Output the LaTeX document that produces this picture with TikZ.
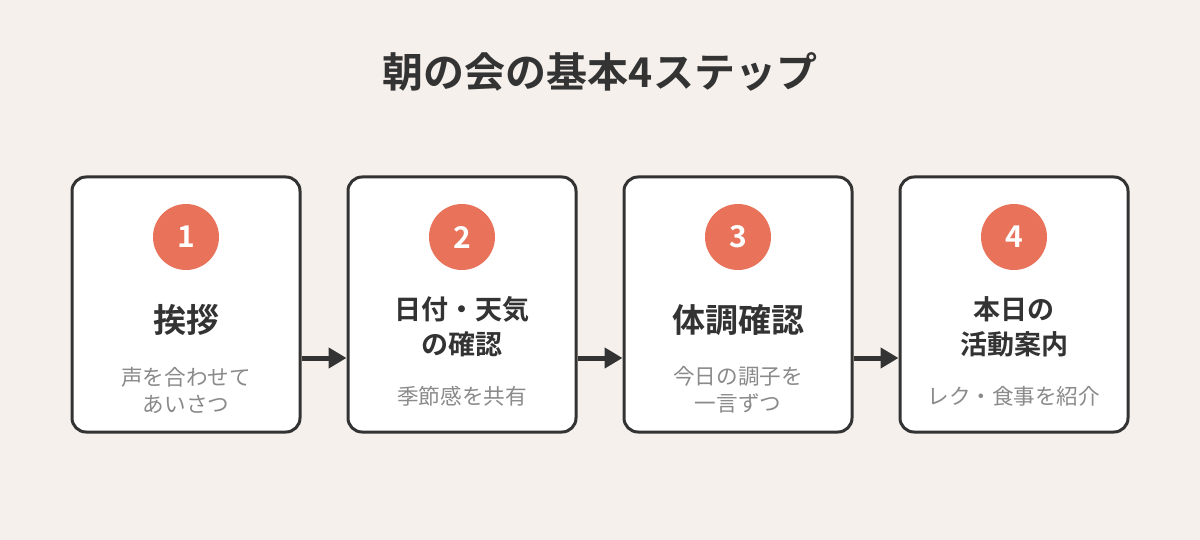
\documentclass[tikz,border=0pt]{standalone}
\usepackage{fontspec}
\setmainfont{Noto Sans CJK JP}
\newfontfamily\jpb{Noto Sans CJK JP Bold}
\usetikzlibrary{arrows.meta}
\definecolor{bg}{HTML}{F5F0EB}
\definecolor{ink}{HTML}{333333}
\definecolor{acc}{HTML}{E8735A}
\definecolor{sub}{HTML}{8A8A8A}
\tikzset{
  card/.style={draw=ink,line width=1.5pt,fill=white,rounded corners=7pt,minimum width=114pt,minimum height=127.5pt},
  num/.style={circle,fill=acc,minimum size=33pt,inner sep=0pt,text=white,font=\jpb\fontsize{15}{15}\selectfont},
  head/.style={text=ink,font=\jpb\fontsize{13.5}{17.5}\selectfont,align=center},
  bighead/.style={text=ink,font=\jpb\fontsize{16.5}{20}\selectfont,align=center},
  desc/.style={text=sub,font=\fontsize{10.8}{13.5}\selectfont,align=center},
  flow/.style={draw=ink,line width=2.5pt,-{Triangle[length=9pt,width=10pt]}}
}
\begin{document}
\begin{tikzpicture}[x=0.5pt,y=-0.5pt]
\fill[bg] (0,0) rectangle (1200,540);
\useasboundingbox (0,0) rectangle (1200,540);
\node[text=ink,font=\jpb\fontsize{20.5}{20.5}\selectfont] (title) at (600,72) {朝の会の基本4ステップ};
\node[card] (c1) at (186,304.5) {};
\node[card] (c2) at (462,304.5) {};
\node[card] (c3) at (738,304.5) {};
\node[card] (c4) at (1014,304.5) {};
\node[num] (n1) at (186,237) {1};
\node[num] (n2) at (462,237) {2};
\node[num] (n3) at (738,237) {3};
\node[num] (n4) at (1014,237) {4};
\node[bighead] (h1) at (186,320) {挨拶};
\node[head] (h2) at (462,327) {日付・天気\\の確認};
\node[bighead] (h3) at (738,320) {体調確認};
\node[head] (h4) at (1014,327) {本日の\\活動案内};
\node[desc] (d1) at (186,390) {声を合わせて\\あいさつ};
\node[desc] (d2) at (462,396) {季節感を共有};
\node[desc] (d3) at (738,390) {今日の調子を\\一言ずつ};
\node[desc] (d4) at (1014,396) {レク・食事を紹介};
\draw[flow] (c1.east |- 0,358) -- (c2.west |- 0,358);
\draw[flow] (c2.east |- 0,358) -- (c3.west |- 0,358);
\draw[flow] (c3.east |- 0,358) -- (c4.west |- 0,358);
\end{tikzpicture}
\end{document}
